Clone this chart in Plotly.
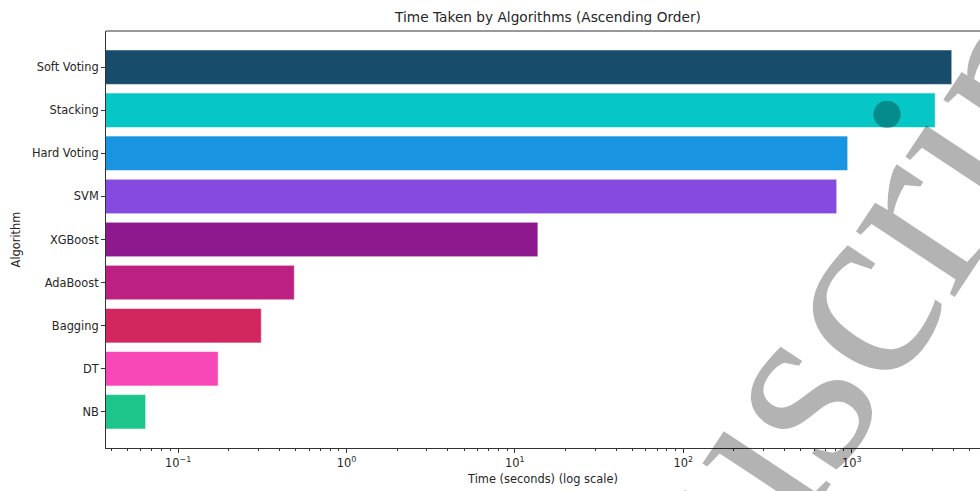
import plotly.graph_objects as go

algorithms = ["NB", "DT", "Bagging", "AdaBoost", "XGBoost", "SVM", "Hard Voting", "Stacking", "Soft Voting"]
times = [0.0642, 0.173, 0.312, 0.49, 13.7, 815, 947, 3130, 3930]
colors = ["#1dc58a", "#f848b8", "#d2265e", "#bc2081", "#8e188e", "#854ae0", "#1894e0", "#06c6c6", "#174c6b"]

major_ticks = [0.1, 1, 10, 100, 1000]
major_labels = ["10<sup>\u22121</sup>", "10<sup>0</sup>", "10<sup>1</sup>", "10<sup>2</sup>", "10<sup>3</sup>"]

minor_ticks = [k * 10.0 ** e for e in range(-2, 4) for k in range(2, 10)]

watermark_text = "Manuscript"

FONT = "DejaVu Sans"
TXT = "#262626"

fig = go.Figure()
fig.add_trace(go.Bar(
    x=times, y=algorithms, orientation="h",
    marker=dict(color=colors, line=dict(color="rgba(255,255,255,0.55)", width=1)),
    width=0.8, showlegend=False,
))

W, H = 980, 491
L, R, T, B = 106, 0, 31, 43

fig.update_layout(
    width=W, height=H,
    margin=dict(l=L, r=R, t=T, b=B),
    paper_bgcolor="white", plot_bgcolor="white",
    font=dict(family=FONT, size=11.4, color=TXT),
    title=dict(text="Time Taken by Algorithms (Ascending Order)",
               x=(548 - L) / (W - L - R), xref="paper", xanchor="center",
               y=1 - 17 / H, yref="container", yanchor="middle",
               font=dict(family=FONT, size=13.7, color=TXT)),
    bargap=0.2,
)
fig.update_xaxes(
    type="log", range=[-1.428, 3.762],
    tickmode="array", tickvals=major_ticks, ticktext=major_labels,
    ticks="outside", ticklen=4, tickwidth=1, tickcolor="#333",
    showline=True, linecolor="#333", linewidth=1,
    showgrid=False, zeroline=False,
    minor=dict(tickmode="array", tickvals=minor_ticks, ticks="outside", ticklen=2, tickcolor="#333", showgrid=False),
    title=dict(text="Time (seconds) (log scale)", standoff=6, font=dict(family=FONT, size=11.4, color=TXT)),
    tickfont=dict(family=FONT, size=11.4, color=TXT),
)
fig.update_yaxes(
    type="category", range=[-0.84, 8.84],
    categoryorder="array", categoryarray=algorithms,
    ticks="outside", ticklen=4, tickwidth=1, tickcolor="#333",
    showline=True, linecolor="#333", linewidth=1,
    showgrid=False, zeroline=False,
    title=dict(text="Algorithm", standoff=8, font=dict(family=FONT, size=11.4, color=TXT)),
    tickfont=dict(family=FONT, size=11.4, color=TXT),
)
fig.add_shape(type="line", xref="paper", yref="paper", x0=0, x1=1, y0=1, y1=1,
              line=dict(color="#333", width=1))

# watermark (semi-transparent black, darkens whatever lies below it)
fig.add_annotation(
    text=watermark_text, xref="paper", yref="paper",
    x=(753 - L) / (W - L - R), y=1 - (444 - T) / (H - T - B),
    xanchor="center", yanchor="middle", showarrow=False,
    textangle=-56.5,
    font=dict(family="Liberation Serif, DejaVu Serif, serif", size=258, color="rgba(0,0,0,0.298)"),
)

fig.write_html("out.html")
